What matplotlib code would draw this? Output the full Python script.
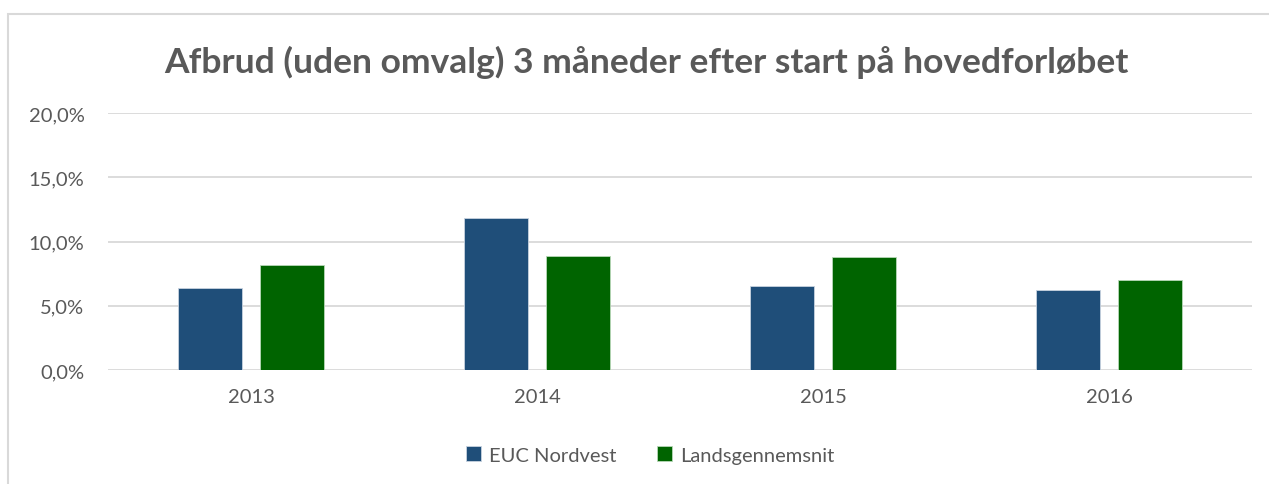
import matplotlib.pyplot as plt
import numpy as np
from matplotlib.patches import Rectangle

years = ['2013', '2014', '2015', '2016']
euc = [6.4, 11.8, 6.5, 6.2]
lands = [8.2, 8.9, 8.8, 7.0]
series_names = ['EUC Nordvest', 'Landsgennemsnit']
colors = ['#1f4e79', '#006400']
yticks = [0, 5, 10, 15, 20]

plt.rcParams['font.family'] = ['Lato', 'DejaVu Sans']
grey = '#595959'

fig = plt.figure(figsize=(12.69, 4.85), dpi=100)
fig.patches.append(Rectangle((8/1269, -0.1), 1.2, (485-15)/485 + 0.1, transform=fig.transFigure,
                             fill=False, edgecolor='#d9d9d9', linewidth=1.5))
ax = fig.add_axes([108/1269, 114/485, 1144/1269, 257/485])

x = np.arange(len(years))
w = 0.224
off = 0.143
ax.bar(x - off, euc, w, color=colors[0], edgecolor='#c8d3e0', linewidth=0.6, label=series_names[0], zorder=3)
ax.bar(x + off, lands, w, color=colors[1], edgecolor='#b8d8b8', linewidth=0.6, label=series_names[1], zorder=3)

ax.set_xlim(-0.5, len(years) - 0.5)
ax.set_ylim(0, 20)
ax.set_yticks(yticks)
ax.set_yticklabels([f'{v:.1f}%'.replace('.', ',') for v in yticks])
ax.set_xticks(x)
ax.set_xticklabels(years)
ax.tick_params(length=0, labelsize=14.5, labelcolor=grey)
ax.tick_params(axis='y', pad=17)
ax.tick_params(axis='x', pad=13)
ax.grid(axis='y', color='#d9d9d9', linewidth=1.3, zorder=0)
for s in ax.spines.values():
    s.set_visible(False)

fig.text(646/1269, 1 - 62/485, 'Afbrud (uden omvalg) 3 måneder efter start på hovedforløbet',
         ha='center', va='center', fontsize=25.5, fontweight='bold', color=grey)

fig.legend(loc='center', bbox_to_anchor=(650/1269, 1 - 456/485), ncol=2, frameon=False,
           fontsize=14.5, labelcolor=grey, handlelength=0.75, handleheight=0.75,
           handletextpad=0.4, columnspacing=2.0)

fig.savefig('out.png', dpi=100)
